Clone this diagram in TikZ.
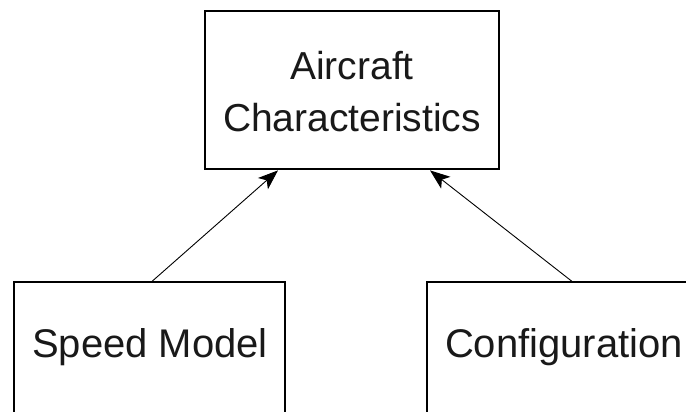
\documentclass[tikz,border=0pt]{standalone}
\usepackage{fontspec}
\setmainfont{Liberation Sans}
\usetikzlibrary{arrows.meta,calc}
\begin{document}
\begin{tikzpicture}[
  box/.style={draw=black, line width=1.2pt, fill=white, inner sep=0pt},
  lbl/.style={inner sep=0pt, align=center, text=black!90,
    font=\fontsize{39}{52}\selectfont},
  link/.style={draw=black, line width=0.9pt,
    -{Stealth[length=20pt, width=15pt, inset=5pt]}}]
  \useasboundingbox (0pt,0pt) rectangle (686pt,-412pt);
  \clip (0pt,0pt) rectangle (686pt,-412pt);

  % top block
  \node[box, minimum width=294pt, minimum height=158pt] (ac) at (352pt,-90pt) {};
  \node[lbl] (actext) at (352pt,-92pt) {Aircraft\\Characteristics};

  % lower blocks (run past the lower edge)
  \node[box, minimum width=271pt, minimum height=170pt] (sm) at (149.5pt,-367pt) {};
  \node[lbl, font=\fontsize{40}{52}\selectfont] (smtext) at (150pt,-347pt) {Speed Model};

  \node[box, minimum width=274pt, minimum height=170pt] (cf) at (564pt,-367pt) {};
  \node[lbl, font=\fontsize{40}{52}\selectfont] (cftext) at (564pt,-347pt) {Configuration};

  % connectors
  \draw[link] ($(sm.north)+(2.5pt,0pt)$) -- ($(ac.south)+(-74pt,-0.8pt)$);
  \draw[link] ($(cf.north)+(8pt,0pt)$) -- ($(ac.south)+(78pt,-0.8pt)$);
\end{tikzpicture}
\end{document}
